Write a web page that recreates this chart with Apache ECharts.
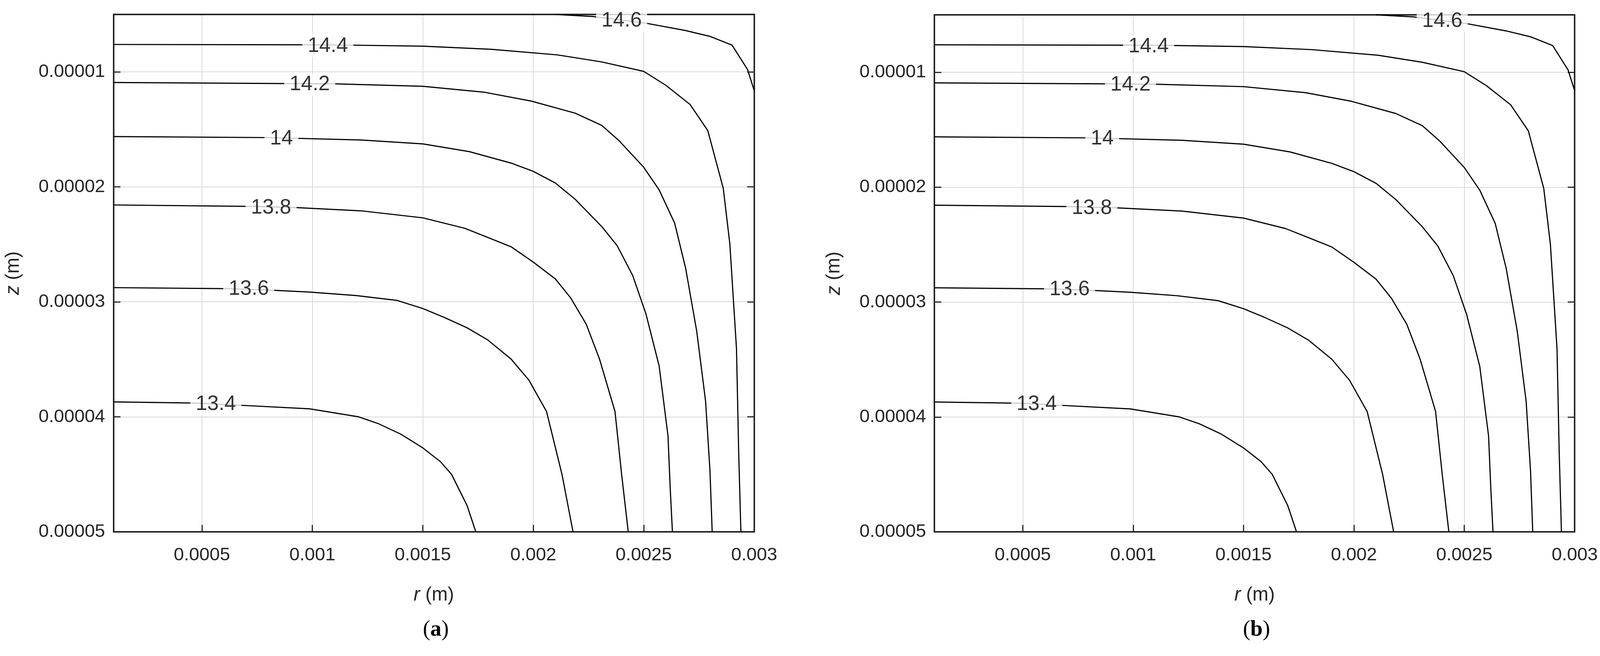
<!DOCTYPE html>
<html>
<head>
<meta charset="utf-8">
<script src="https://cdn.jsdelivr.net/npm/echarts@6/dist/echarts.min.js"></script>
<style>
  html, body { margin: 0; padding: 0; background: #fff; overflow: hidden; }
  #chart { width: 100vw; height: 100vh; }
</style>
</head>
<body>
<div id="chart"></div>
<script>
// contour levels and their [r (m), z (m)] paths
const levels = ['13.4', '13.6', '13.8', '14', '14.2', '14.4', '14.6'];

const c134 = [[0.0001, 38.7e-6], [0.000474, 38.8e-6], [0.000684, 39.0e-6], [0.000988, 39.3e-6], [0.00121, 40.0e-6],
    [0.0013, 40.6e-6], [0.0014, 41.5e-6], [0.0015, 42.7e-6], [0.00158, 43.9e-6], [0.00163, 45.0e-6],
    [0.0017, 47.7e-6], [0.00174, 50.0e-6]];
const c136 = [[0.0001, 28.76e-6], [0.000614, 28.85e-6], [0.000801, 28.97e-6], [0.000988, 29.15e-6], [0.0012, 29.45e-6],
    [0.001385, 29.88e-6], [0.0015, 30.58e-6], [0.001596, 31.34e-6], [0.0017, 32.25e-6], [0.001794, 33.31e-6],
    [0.0019, 34.98e-6], [0.00198, 36.8e-6], [0.00206, 39.53e-6], [0.00213, 45.0e-6], [0.00218, 50.0e-6]];
const c138 = [[0.0001, 21.57e-6], [0.000708, 21.69e-6], [0.000906, 21.78e-6], [0.00122, 22.08e-6], [0.0015, 22.69e-6],
    [0.00169, 23.6e-6], [0.00179, 24.36e-6], [0.0019, 25.21e-6], [0.002, 26.54e-6], [0.0021, 28.0e-6],
    [0.00217, 29.67e-6], [0.00224, 31.95e-6], [0.0023, 34.98e-6], [0.00237, 39.53e-6], [0.0024, 45.0e-6],
    [0.00243, 50.0e-6]];
const c140 = [[0.0001, 15.62e-6], [0.000801, 15.71e-6], [0.00122, 15.92e-6], [0.0015, 16.26e-6], [0.00171, 16.93e-6],
    [0.0019, 17.93e-6], [0.002, 18.65e-6], [0.0021, 19.66e-6], [0.00219, 21.08e-6], [0.00231, 23.45e-6],
    [0.00238, 25.12e-6], [0.00245, 27.7e-6], [0.00251, 31.04e-6], [0.00257, 35.59e-6], [0.00261, 41.66e-6],
    [0.00262, 46.21e-6], [0.00263, 50.0e-6]];
const c142 = [[0.0001, 10.92e-6], [0.000871, 11.01e-6], [0.001105, 11.04e-6], [0.0015, 11.25e-6], [0.00178, 11.77e-6],
    [0.00199, 12.53e-6], [0.00219, 13.59e-6], [0.00231, 14.65e-6], [0.00239, 16.01e-6], [0.0025, 18.29e-6],
    [0.00257, 20.26e-6], [0.00264, 23.15e-6], [0.00269, 27.09e-6], [0.00274, 32.55e-6], [0.00278, 38.62e-6],
    [0.0028, 44.69e-6], [0.00281, 50.0e-6]];
const c144 = [[0.0001, 7.61e-6], [0.000988, 7.64e-6], [0.00118, 7.67e-6], [0.0015, 7.76e-6], [0.00181, 8.03e-6],
    [0.00211, 8.52e-6], [0.00231, 9.13e-6], [0.0025, 9.95e-6], [0.0026, 11.16e-6], [0.00271, 12.83e-6],
    [0.00279, 15.1e-6], [0.00286, 20.11e-6], [0.00289, 24.97e-6], [0.00292, 34.07e-6], [0.00293, 43.17e-6],
    [0.00294, 50.0e-6]];
const c146 = [[0.0021, 5.0e-6], [0.00227, 5.18e-6], [0.00251, 5.76e-6], [0.00269, 6.4e-6], [0.0028, 6.91e-6],
    [0.0029, 7.67e-6], [0.00297, 9.79e-6], [0.003, 11.61e-6]];
const contours = [c134, c136, c138, c140, c142, c144, c146];

// where the inline level labels sit
const labelPos = [[0.000563, 38.9e-6], [0.000712, 28.9e-6], [0.000813, 21.84e-6], [0.00086, 15.8e-6],
    [0.000988, 11.1e-6], [0.00107, 7.76e-6], [0.0024, 5.55e-6]];

const rTicks = [0.0005, 0.001, 0.0015, 0.002, 0.0025, 0.003];
const zTicks = [0.00001, 0.00002, 0.00003, 0.00004, 0.00005];
const panels = ['a', 'b'];

const el = document.getElementById('chart');
const chart = echarts.init(el);
// layout was measured on a 4171x1680 canvas; scale to whatever the viewport really is
const sx = el.clientWidth / 4171, sy = el.clientHeight / 1680;
const s = Math.min(sx, sy);
const font = 'Liberation Sans, Arial, sans-serif';
const serif = 'Liberation Serif, Times New Roman, serif';
const grids = [
    { left: 296 * sx, width: 1670 * sx, top: 37 * sy, height: 1325 * sy },
    { left: 2436 * sx, width: 1669 * sx, top: 38 * sy, height: 1324 * sy }
];

let xAxes = [], yAxes = [], series = [], titles = [];

panels.forEach((p, i) => {
    const axisLine = { show: true, onZero: false, lineStyle: { color: '#262626', width: 4 * s } };
    const tick = { show: true, inside: true, length: 18 * s, lineStyle: { color: '#262626', width: 3 * s } };
    const nameStyle = { fontFamily: font, fontSize: 50 * s, color: '#262626',
        rich: { i: { fontStyle: 'italic', fontFamily: font, fontSize: 50 * s, color: '#262626' } } };
    xAxes.push({
        gridIndex: i, type: 'value', min: 0.0001, max: 0.003,
        name: '{i|r} (m)', nameLocation: 'middle', nameGap: 138 * sy, nameTextStyle: nameStyle,
        axisLine: axisLine,
        axisTick: { ...tick, customValues: rTicks },
        axisLabel: { customValues: rTicks, fontFamily: font, fontSize: 48 * s, color: '#262626', margin: 36 * sy,
            formatter: v => String(v) },
        splitLine: { show: true, lineStyle: { color: '#d9d9d9', width: 2 * s } }
    });
    xAxes.push({
        gridIndex: i, type: 'value', min: 0.0001, max: 0.003, position: 'top',
        axisLine: axisLine, axisTick: { show: false }, axisLabel: { show: false }, splitLine: { show: false }
    });
    yAxes.push({
        gridIndex: i, type: 'value', min: 0.000005, max: 0.00005, inverse: true,
        name: '{i|z} (m)', nameLocation: 'middle', nameGap: 236 * sx, nameTextStyle: nameStyle,
        axisLine: axisLine,
        axisTick: { ...tick, customValues: zTicks },
        axisLabel: { customValues: zTicks, fontFamily: font, fontSize: 48 * s, color: '#262626', margin: 22 * sx,
            formatter: v => v.toFixed(5) },
        splitLine: { show: true, lineStyle: { color: '#d9d9d9', width: 2 * s } }
    });
    yAxes.push({
        gridIndex: i, type: 'value', min: 0.000005, max: 0.00005, inverse: true, position: 'right',
        axisLine: axisLine,
        axisTick: { ...tick, customValues: zTicks },
        axisLabel: { show: false }, splitLine: { show: false }
    });

    contours.forEach(c => {
        series.push({
            type: 'line', xAxisIndex: i * 2, yAxisIndex: i * 2, data: c,
            showSymbol: false, silent: true, z: 3,
            lineStyle: { color: '#000', width: 3 * s }
        });
    });
    series.push({
        type: 'scatter', xAxisIndex: i * 2, yAxisIndex: i * 2, symbolSize: 0, z: 5, silent: true,
        data: labelPos.map((d, k) => ({ value: d, name: levels[k] })),
        label: { show: true, position: 'inside', formatter: '{b}', fontFamily: font, fontSize: 54 * s,
            color: '#000', backgroundColor: '#fff', padding: [2 * s, 14 * s] }
    });

    const g = grids[i];
    titles.push({
        text: '({b|' + p + '})', left: g.left + g.width / 2, top: 1580 * sy, textAlign: 'center',
        textStyle: { fontFamily: serif, fontSize: 58 * s, fontWeight: 'normal', color: '#000',
            rich: { b: { fontFamily: serif, fontSize: 58 * s, fontWeight: 'bold', color: '#000' } } }
    });
});

chart.setOption({
    backgroundColor: '#fff',
    animation: false,
    title: titles,
    grid: grids,
    xAxis: xAxes,
    yAxis: yAxes,
    series: series
});
</script>
</body>
</html>
